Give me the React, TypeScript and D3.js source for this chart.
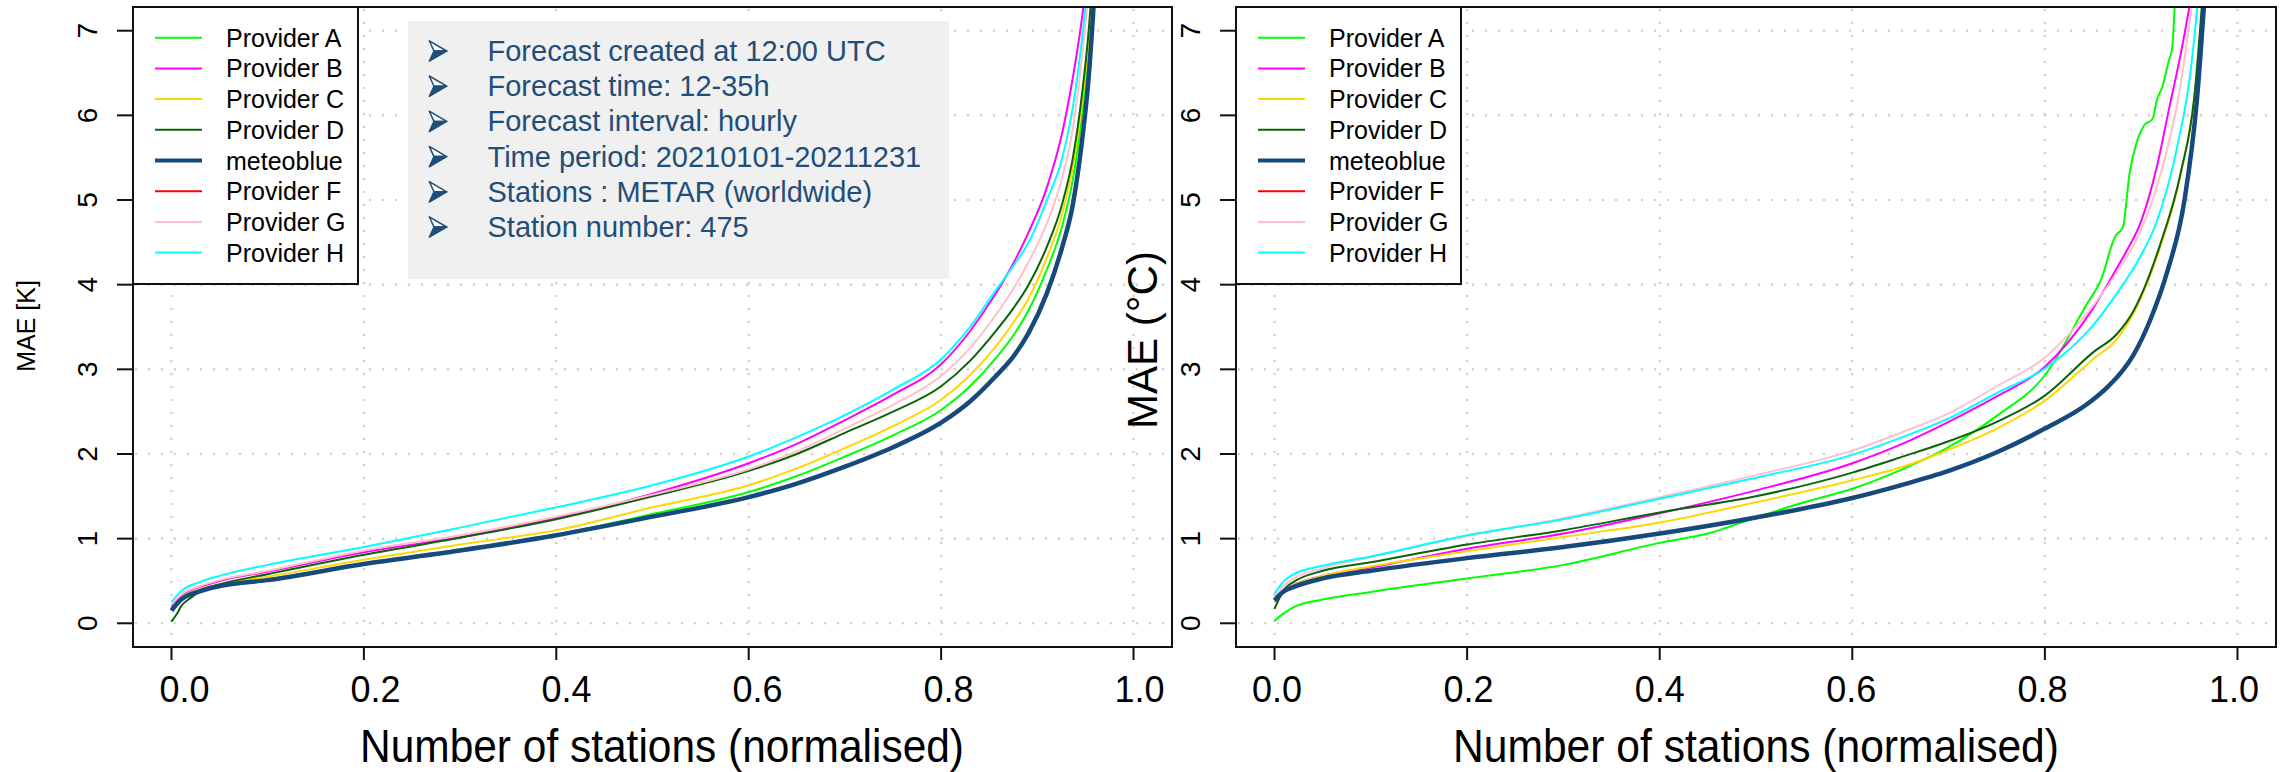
import React from 'react';
import * as d3 from 'd3';

const xTicks = [0, 0.2, 0.4, 0.6, 0.8, 1.0];
const xTickLabels = ['0.0', '0.2', '0.4', '0.6', '0.8', '1.0'];
const yTicks = [0, 1, 2, 3, 4, 5, 6, 7];

const seriesNames = ['Provider A', 'Provider B', 'Provider C', 'Provider D', 'meteoblue', 'Provider F', 'Provider G', 'Provider H'];
const seriesColors = ['#00ff00', '#ff00ff', '#ffd700', '#0a640a', '#174a7c', '#ff0000', '#ffc0cb', '#00ffff'];
const seriesWidths = [2, 2, 2, 2, 4.5, 2, 2, 2];

const infoLines = [
  'Forecast created at 12:00 UTC',
  'Forecast time: 12-35h',
  'Forecast interval: hourly',
  'Time period: 20210101-20211231',
  'Stations : METAR (worldwide)',
  'Station number: 475',
];

type P = [number, number];

// ---- left panel (MAE [K]) ----
const leftA: P[] = [[0,0.18],[0.01,0.3],[0.03,0.4],[0.05,0.45],[0.1,0.52],[0.2,0.70],[0.3,0.87],[0.4,1.05],[0.5,1.29],[0.6,1.55],[0.65,1.74],[0.7,1.97],[0.75,2.22],[0.8,2.52],[0.83,2.80],[0.856,3.12],[0.875,3.40],[0.891,3.70],[0.91,4.18],[0.926,4.70],[0.937,5.25],[0.947,6.05],[0.953,6.7],[0.958,7.5],[0.964,8.6]];
const leftB: P[] = [[0,0.2],[0.01,0.33],[0.03,0.43],[0.05,0.5],[0.1,0.61],[0.2,0.84],[0.3,1.02],[0.4,1.24],[0.5,1.53],[0.6,1.89],[0.65,2.12],[0.7,2.40],[0.75,2.70],[0.8,3.06],[0.83,3.45],[0.856,3.88],[0.875,4.25],[0.891,4.62],[0.91,5.15],[0.926,5.8],[0.937,6.45],[0.947,7.2],[0.953,7.8]];
const leftC: P[] = [[0,0.15],[0.01,0.3],[0.03,0.4],[0.05,0.46],[0.1,0.55],[0.2,0.75],[0.3,0.93],[0.4,1.10],[0.5,1.37],[0.6,1.63],[0.65,1.83],[0.7,2.07],[0.75,2.33],[0.8,2.64],[0.83,2.93],[0.856,3.26],[0.875,3.55],[0.891,3.84],[0.91,4.32],[0.926,4.84],[0.937,5.4],[0.947,6.2],[0.953,6.85],[0.958,7.6]];
const leftD: P[] = [[0,0.02],[0.005,0.1],[0.01,0.2],[0.02,0.3],[0.03,0.38],[0.05,0.46],[0.1,0.58],[0.2,0.81],[0.3,1.01],[0.4,1.23],[0.5,1.50],[0.6,1.80],[0.65,2.0],[0.7,2.25],[0.75,2.50],[0.8,2.80],[0.83,3.1],[0.856,3.44],[0.875,3.72],[0.891,4.0],[0.91,4.45],[0.926,4.96],[0.937,5.5],[0.947,6.3],[0.953,6.95],[0.958,7.7]];
const leftMB: P[] = [[0,0.15],[0.01,0.28],[0.03,0.38],[0.05,0.44],[0.1,0.51],[0.2,0.70],[0.3,0.86],[0.4,1.04],[0.5,1.26],[0.6,1.49],[0.65,1.65],[0.7,1.85],[0.75,2.08],[0.8,2.37],[0.83,2.62],[0.856,2.91],[0.875,3.15],[0.891,3.43],[0.91,3.9],[0.926,4.45],[0.937,4.95],[0.947,5.75],[0.953,6.4],[0.958,7.2],[0.965,8.6]];
const leftF: P[] = [];
const leftG: P[] = [[0,0.22],[0.01,0.34],[0.03,0.44],[0.05,0.51],[0.1,0.62],[0.2,0.86],[0.3,1.04],[0.4,1.26],[0.5,1.52],[0.6,1.82],[0.65,2.03],[0.7,2.30],[0.75,2.58],[0.8,2.92],[0.83,3.25],[0.856,3.63],[0.875,3.95],[0.891,4.27],[0.91,4.73],[0.926,5.27],[0.937,5.85],[0.947,6.75],[0.953,7.4],[0.958,8.1]];
const leftH: P[] = [[0,0.25],[0.01,0.38],[0.03,0.49],[0.05,0.56],[0.1,0.69],[0.2,0.90],[0.3,1.13],[0.4,1.37],[0.5,1.63],[0.6,1.97],[0.65,2.2],[0.7,2.46],[0.75,2.76],[0.8,3.12],[0.83,3.5],[0.856,3.92],[0.875,4.22],[0.891,4.5],[0.91,5.0],[0.926,5.5],[0.937,6.1],[0.947,6.95],[0.953,7.6]];

// ---- right panel (MAE (°C)) ----
const rightA: P[] = [[0,0.03],[0.01,0.12],[0.02,0.19],[0.05,0.28],[0.1,0.37],[0.2,0.53],[0.3,0.69],[0.4,0.95],[0.45,1.06],[0.5,1.25],[0.55,1.43],[0.6,1.59],[0.65,1.81],[0.7,2.08],[0.75,2.45],[0.8,2.93],[0.844,3.78],[0.858,4.05],[0.873,4.57],[0.881,4.68],[0.888,5.32],[0.895,5.67],[0.903,5.88],[0.912,5.96],[0.916,6.17],[0.922,6.34],[0.929,6.66],[0.932,6.78],[0.936,7.6]];
const rightB: P[] = [[0,0.25],[0.01,0.38],[0.02,0.45],[0.05,0.56],[0.1,0.66],[0.2,0.88],[0.3,1.06],[0.4,1.30],[0.5,1.57],[0.6,1.89],[0.65,2.11],[0.7,2.38],[0.75,2.68],[0.8,3.03],[0.85,3.72],[0.875,4.2],[0.885,4.4],[0.9,4.75],[0.916,5.38],[0.929,6.08],[0.942,6.78],[0.955,7.6]];
const rightC: P[] = [[0,0.25],[0.01,0.38],[0.02,0.45],[0.05,0.56],[0.1,0.67],[0.2,0.85],[0.3,1.02],[0.4,1.19],[0.5,1.43],[0.6,1.69],[0.65,1.84],[0.7,2.05],[0.75,2.30],[0.8,2.63],[0.85,3.12],[0.875,3.36],[0.892,3.66],[0.919,4.42],[0.941,5.3],[0.955,6.2],[0.966,7.6]];
const rightD: P[] = [[0,0.17],[0.01,0.4],[0.02,0.49],[0.05,0.62],[0.1,0.72],[0.2,0.93],[0.3,1.10],[0.4,1.31],[0.5,1.50],[0.6,1.78],[0.65,1.96],[0.7,2.15],[0.75,2.38],[0.8,2.69],[0.85,3.2],[0.875,3.42],[0.892,3.69],[0.919,4.45],[0.941,5.32],[0.955,6.2],[0.965,7.6]];
const rightMB: P[] = [[0,0.27],[0.01,0.38],[0.02,0.43],[0.05,0.53],[0.1,0.62],[0.2,0.77],[0.3,0.90],[0.4,1.06],[0.5,1.25],[0.6,1.48],[0.65,1.63],[0.7,1.80],[0.75,2.02],[0.8,2.30],[0.844,2.59],[0.865,2.79],[0.879,2.96],[0.892,3.17],[0.91,3.6],[0.927,4.15],[0.945,5.0],[0.958,6.2],[0.967,7.6]];
const rightF: P[] = [];
const rightG: P[] = [[0,0.3],[0.01,0.45],[0.02,0.53],[0.05,0.65],[0.1,0.78],[0.2,1.03],[0.3,1.24],[0.4,1.49],[0.5,1.75],[0.6,2.04],[0.65,2.25],[0.7,2.48],[0.75,2.80],[0.8,3.14],[0.85,3.75],[0.875,4.15],[0.9,4.65],[0.92,5.3],[0.94,6.3],[0.955,7.5]];
const rightH: P[] = [[0,0.35],[0.01,0.5],[0.02,0.58],[0.05,0.68],[0.1,0.79],[0.2,1.04],[0.3,1.23],[0.4,1.47],[0.5,1.72],[0.6,1.99],[0.65,2.19],[0.7,2.42],[0.75,2.72],[0.8,3.01],[0.85,3.52],[0.875,3.9],[0.9,4.35],[0.916,4.74],[0.937,5.61],[0.951,6.49],[0.961,7.6]];

const leftSeries = [leftA, leftB, leftC, leftD, leftMB, leftF, leftG, leftH];
const rightSeries = [rightA, rightB, rightC, rightD, rightMB, rightF, rightG, rightH];

const FONT = '"Liberation Sans", Arial, Helvetica, sans-serif';
const TEXTBLUE = '#1f4e79';

interface PanelProps {
  id: string;
  left: number;
  right: number;
  data: P[][];
  labelOffset: (v: number) => number;
}

const TOP = 7;
const BOTTOM = 647;

function Panel({ id, left, right, data, labelOffset }: PanelProps) {
  const x = d3.scaleLinear().domain([-0.04, 1.04]).range([left, right]);
  const y = d3.scaleLinear().domain([-0.28, 7.28]).range([BOTTOM, TOP]);
  const line = d3
    .line<P>()
    .x((d) => x(d[0]))
    .y((d) => y(d[1]))
    .curve(d3.curveMonotoneX);
  const drawOrder = [0, 1, 2, 3, 5, 6, 7, 4];
  const legX = left;
  const legW = 225;
  const legY = TOP;
  const legH = 277;
  return (
    <g>
      <defs>
        <clipPath id={`clip-${id}`}>
          <rect x={left} y={TOP} width={right - left} height={BOTTOM - TOP} />
        </clipPath>
      </defs>
      {xTicks.map((t) => (
        <line key={`gx${t}`} x1={x(t)} x2={x(t)} y1={TOP + 3} y2={BOTTOM - 3} stroke="#d0d0d0" strokeWidth={2.6} strokeLinecap="round" strokeDasharray="0 13" />
      ))}
      {yTicks.map((t) => (
        <line key={`gy${t}`} x1={left + 3} x2={right - 3} y1={y(t)} y2={y(t)} stroke="#d0d0d0" strokeWidth={2.6} strokeLinecap="round" strokeDasharray="0 13" />
      ))}
      <g clipPath={`url(#clip-${id})`}>
        {drawOrder.map((i) =>
          data[i].length > 1 ? (
            <path key={`s${i}`} d={line(data[i]) || ''} fill="none" stroke={seriesColors[i]} strokeWidth={seriesWidths[i]} strokeLinejoin="round" />
          ) : null
        )}
      </g>
      <rect x={legX} y={legY} width={legW} height={legH} fill="#ffffff" stroke="#111" strokeWidth={2} />
      {seriesNames.map((n, i) => {
        const ry = 37.7 + 30.7 * i;
        return (
          <g key={`lg${i}`}>
            <line x1={legX + 22} x2={legX + 69} y1={ry} y2={ry} stroke={seriesColors[i]} strokeWidth={seriesWidths[i] === 2 ? 2 : 4} />
            <text x={legX + 93} y={ry + 9} fontSize={25} fontFamily={FONT} fill="#000">
              {n}
            </text>
          </g>
        );
      })}
      <rect x={left} y={TOP} width={right - left} height={BOTTOM - TOP} fill="none" stroke="#111" strokeWidth={2} />
      {yTicks.map((t) => (
        <g key={`yt${t}`}>
          <line x1={left - 16} x2={left} y1={y(t)} y2={y(t)} stroke="#111" strokeWidth={2} />
          <text transform={`translate(${left - 36},${y(t)}) rotate(-90)`} textAnchor="middle" fontSize={28} fontFamily={FONT} fill="#000">
            {t}
          </text>
        </g>
      ))}
      {xTicks.map((t, i) => (
        <g key={`xt${t}`}>
          <line x1={x(t)} x2={x(t)} y1={BOTTOM} y2={BOTTOM + 13} stroke="#111" strokeWidth={2} />
          <text x={x(t) + labelOffset(t)} y={702} textAnchor="middle" fontSize={36} fontFamily={FONT} fill="#000">
            {xTickLabels[i]}
          </text>
        </g>
      ))}
    </g>
  );
}

function Arrow({ x, y }: { x: number; y: number }) {
  // arrowhead bullet (like ➢), 19 x 22
  return (
    <g transform={`translate(${x},${y})`}>
      <path d="M0.8,0.8 L18.2,11 L5.5,11 Z" fill="#ffffff" stroke={TEXTBLUE} strokeWidth={1.5} strokeLinejoin="round" />
      <path d="M5.5,11 L18.2,11 L0.8,21.2 Z" fill={TEXTBLUE} stroke={TEXTBLUE} strokeWidth={1.5} strokeLinejoin="round" />
    </g>
  );
}

export default function App() {
  return (
    <svg width={2290} height={772} style={{ position: 'absolute', left: 0, top: 0, background: '#fff' }} xmlns="http://www.w3.org/2000/svg">
      <rect x={0} y={0} width={2290} height={772} fill="#fff" />
      <Panel id="L" left={133} right={1172} data={leftSeries} labelOffset={(v) => 13 - 7 * v} />
      <Panel id="R" left={1236} right={2276} data={rightSeries} labelOffset={(v) => 2.5 - 6 * v} />

      <rect x={408} y={21} width={541} height={258} fill="#f0f0f0" />
      {infoLines.map((s, i) => {
        const base = 61 + 35.2 * i;
        return (
          <g key={`info${i}`}>
            <Arrow x={428.5} y={base - 21} />
            <text x={487.5} y={base} fontSize={29} fontFamily={FONT} fill={TEXTBLUE}>
              {s}
            </text>
          </g>
        );
      })}

      <text x={662} y={762} textAnchor="middle" fontSize={47} textLength={604} lengthAdjust="spacingAndGlyphs" fontFamily={FONT} fill="#000">
        Number of stations (normalised)
      </text>
      <text x={1756} y={762} textAnchor="middle" fontSize={47} textLength={606} lengthAdjust="spacingAndGlyphs" fontFamily={FONT} fill="#000">
        Number of stations (normalised)
      </text>
      <text transform="translate(35,326) rotate(-90)" textAnchor="middle" fontSize={25} fontFamily={FONT} fill="#000">
        MAE [K]
      </text>
      <text transform="translate(1157,340) rotate(-90)" textAnchor="middle" fontSize={42} fontFamily={FONT} fill="#000">
        MAE (°C)
      </text>
    </svg>
  );
}
